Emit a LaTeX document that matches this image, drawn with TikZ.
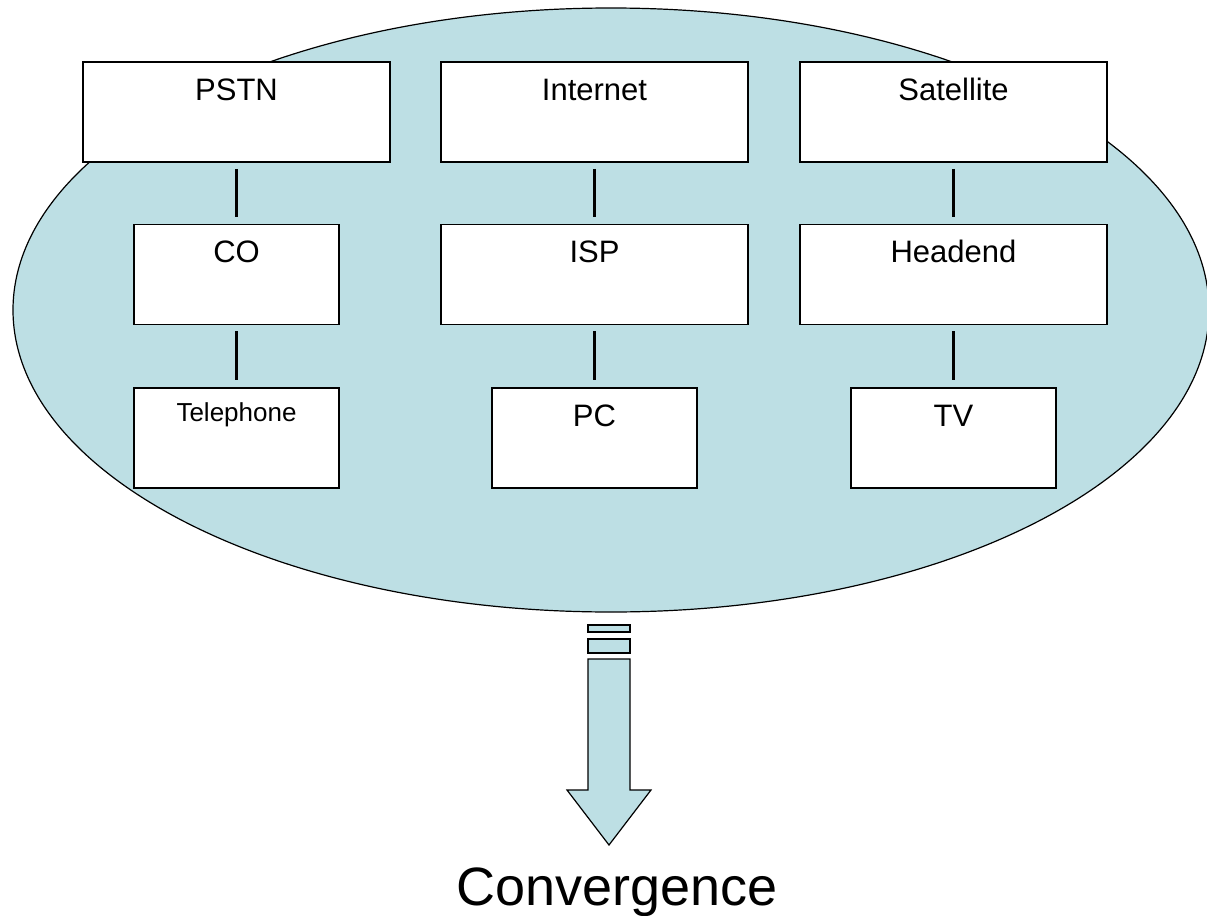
\documentclass[tikz,border=0pt]{standalone}
\usepackage{fontspec}
\setmainfont{Liberation Sans}
\definecolor{paleblue}{RGB}{189,223,228}
\tikzset{
  netbox/.style={draw, fill=white, line width=0.8pt, minimum width=153.5pt, minimum height=50pt, inner sep=0pt},
  devbox/.style={netbox, minimum width=102.5pt},
  boxlabel/.style={anchor=base, inner sep=0pt, yshift=-19.5pt, font=\fontsize{15.5}{17}\selectfont},
  link/.style={line width=1.1pt, shorten <=3pt, shorten >=3.5pt}
}
\begin{document}
\begin{tikzpicture}[x=0.5pt, y=-0.5pt]
      \useasboundingbox (0,0) rectangle (1207,916);
      \draw[fill=paleblue, line width=0.6pt] (611,310) ellipse [x radius=299pt, y radius=151pt];

      % networks
      \node[netbox] (pstn) at (236.5,112) {};
      \node[netbox] (internet) at (594.5,112) {};
      \node[netbox] (satellite) at (953.5,112) {};
      % access points
      \node[devbox] (co) at (236.5,274.5) {};
      \node[netbox] (isp) at (594.5,274.5) {};
      \node[netbox] (headend) at (953.5,274.5) {};
      % end devices
      \node[devbox] (telephone) at (236.5,438) {};
      \node[devbox] (pc) at (594.5,438) {};
      \node[devbox] (tv) at (953.5,438) {};

      \node[boxlabel] (pstnlbl) at (pstn.north) {PSTN};
      \node[boxlabel] (internetlbl) at (internet.north) {Internet};
      \node[boxlabel] (satellitelbl) at (satellite.north) {Satellite};
      \node[boxlabel] (colbl) at (co.north) {CO};
      \node[boxlabel] (isplbl) at (isp.north) {ISP};
      \node[boxlabel] (headendlbl) at (headend.north) {Headend};
      \node[boxlabel, yshift=2.5pt, font=\fontsize{13}{15}\selectfont] (telephonelbl) at (telephone.north) {Telephone};
      \node[boxlabel] (pclbl) at (pc.north) {PC};
      \node[boxlabel] (tvlbl) at (tv.north) {TV};

      \draw[link] (pstn.south) -- (co.north);
      \draw[link] (co.south) -- (telephone.north);
      \draw[link] (internet.south) -- (isp.north);
      \draw[link] (isp.south) -- (pc.north);
      \draw[link] (satellite.south) -- (headend.north);
      \draw[link] (headend.south) -- (tv.north);

      % striped arrow
      \draw[fill=paleblue, line width=0.6pt] (588,625) rectangle (630,632);
      \draw[fill=paleblue, line width=0.6pt] (588,639) rectangle (630,653);
      \draw[fill=paleblue, line width=0.6pt] (588,659) -- (630,659) -- (630,790) -- (651,790) -- (609,845) -- (567,790) -- (588,790) -- cycle;

      \node[anchor=base, inner sep=0pt, font=\fontsize{27}{30}\selectfont] (convergence) at (617,905) {Convergence};
    \end{tikzpicture}
\end{document}
